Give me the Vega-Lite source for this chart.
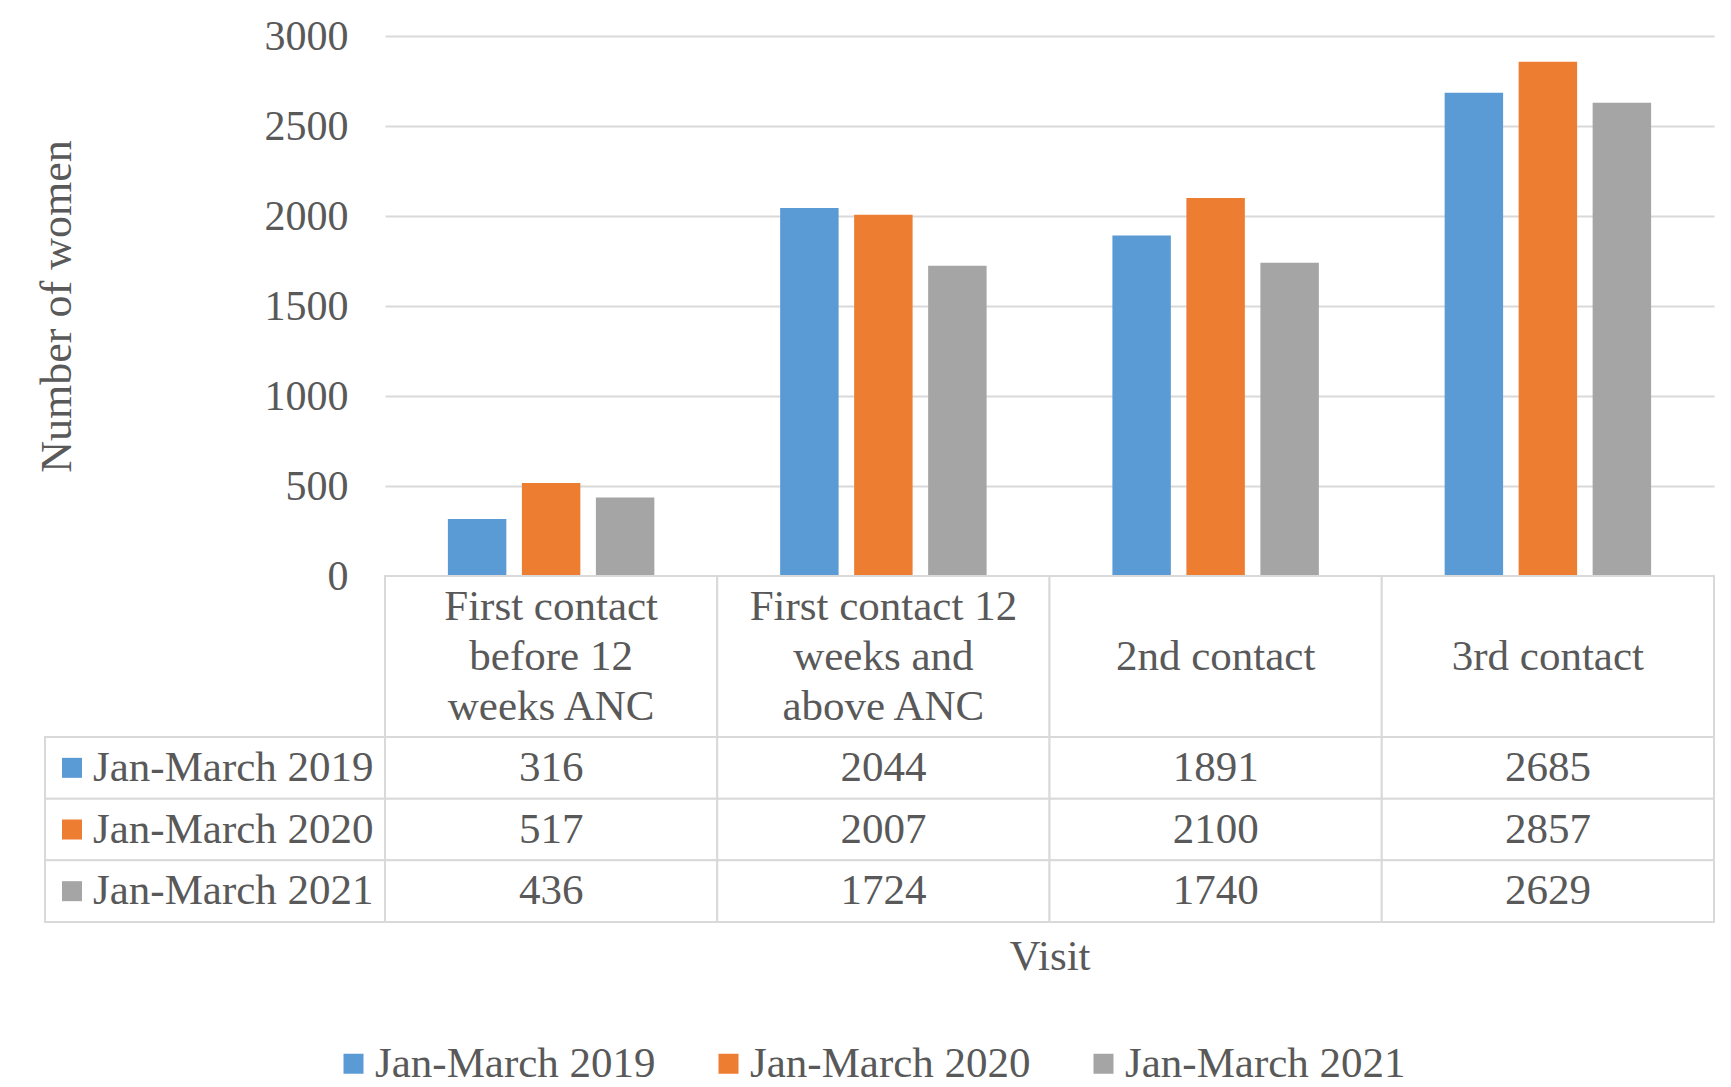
{
  "$schema": "https://vega.github.io/schema/vega-lite/v6.json",
  "background": "white",
  "padding": {"left": 35, "top": 15, "right": 13, "bottom": 5},
  "config": {
    "view": {"stroke": null},
    "font": "Liberation Serif",
    "text": {"font": "Liberation Serif", "color": "#595959"}
  },
  "datasets": {
    "counts": [
      {"visit": "First contact before 12 weeks ANC", "period": "Jan-March 2019", "count": 316},
      {"visit": "First contact 12 weeks and above ANC", "period": "Jan-March 2019", "count": 2044},
      {"visit": "2nd contact", "period": "Jan-March 2019", "count": 1891},
      {"visit": "3rd contact", "period": "Jan-March 2019", "count": 2685},
      {"visit": "First contact before 12 weeks ANC", "period": "Jan-March 2020", "count": 517},
      {"visit": "First contact 12 weeks and above ANC", "period": "Jan-March 2020", "count": 2007},
      {"visit": "2nd contact", "period": "Jan-March 2020", "count": 2100},
      {"visit": "3rd contact", "period": "Jan-March 2020", "count": 2857},
      {"visit": "First contact before 12 weeks ANC", "period": "Jan-March 2021", "count": 436},
      {"visit": "First contact 12 weeks and above ANC", "period": "Jan-March 2021", "count": 1724},
      {"visit": "2nd contact", "period": "Jan-March 2021", "count": 1740},
      {"visit": "3rd contact", "period": "Jan-March 2021", "count": 2629}
    ],
    "headers": [
      {"visit": "First contact before 12 weeks ANC", "header": "First contact|before 12|weeks ANC", "lines": 3},
      {"visit": "First contact 12 weeks and above ANC", "header": "First contact 12|weeks and|above ANC", "lines": 3},
      {"visit": "2nd contact", "header": "2nd contact", "lines": 1},
      {"visit": "3rd contact", "header": "3rd contact", "lines": 1}
    ],
    "periods": [
      {"period": "Jan-March 2019"},
      {"period": "Jan-March 2020"},
      {"period": "Jan-March 2021"}
    ]
  },
  "spacing": 0,
  "bounds": "flush",
  "resolve": {"scale": {"x": "independent", "y": "independent", "color": "shared"}},
  "vconcat": [
    {
      "width": 1329,
      "height": 540,
      "data": {"name": "counts"},
      "mark": {"type": "bar"},
      "encoding": {
        "x": {
          "field": "visit", "type": "nominal",
          "sort": ["First contact before 12 weeks ANC", "First contact 12 weeks and above ANC", "2nd contact", "3rd contact"],
          "scale": {"paddingInner": 0, "paddingOuter": 0},
          "axis": null
        },
        "xOffset": {
          "field": "period", "type": "nominal",
          "sort": ["Jan-March 2019", "Jan-March 2020", "Jan-March 2021"],
          "scale": {"paddingInner": 0.21, "paddingOuter": 0.85}
        },
        "y": {
          "field": "count", "type": "quantitative",
          "scale": {"domain": [0, 3000]},
          "axis": {
            "values": [0, 500, 1000, 1500, 2000, 2500, 3000],
            "format": "d",
            "title": "Number of women",
            "grid": true, "gridColor": "#d9d9d9", "gridWidth": 2,
            "domain": false, "ticks": false,
            "labelFont": "Liberation Serif", "labelFontSize": 42, "labelColor": "#595959", "labelPadding": 37,
            "titleFont": "Liberation Serif", "titleFontSize": 44, "titleFontWeight": "normal", "titleColor": "#595959",
            "titlePadding": 185
          }
        },
        "color": {
          "field": "period", "type": "nominal",
          "scale": {"domain": ["Jan-March 2019", "Jan-March 2020", "Jan-March 2021"], "range": ["#5B9BD5", "#ED7D31", "#A5A5A5"]},
          "legend": {
            "title": null,
            "orient": "none",
            "direction": "horizontal",
            "legendX": -53,
            "legendY": 1006,
            "symbolType": "square",
            "symbolSize": 400,
            "symbolStrokeWidth": 0,
            "labelFont": "Liberation Serif",
            "labelFontSize": 43,
            "labelColor": "#595959",
            "labelOffset": 0,
            "columnPadding": 51,
            "labelLimit": 400
          }
        }
      }
    },
    {
      "width": 1329,
      "height": 161,
      "data": {"name": "headers"},
      "layer": [
        {
          "mark": {"type": "rect", "fill": "white", "stroke": "#d9d9d9", "strokeWidth": 2},
          "encoding": {
            "x": {"field": "visit", "type": "nominal", "sort": ["First contact before 12 weeks ANC", "First contact 12 weeks and above ANC", "2nd contact", "3rd contact"], "scale": {"paddingInner": 0, "paddingOuter": 0}, "axis": null},
            "y": {"datum": "header", "type": "nominal", "scale": {"paddingInner": 0, "paddingOuter": 0}, "axis": null}
          }
        },
        {
          "transform": [{"filter": "datum.lines == 3"}],
          "mark": {"type": "text", "lineBreak": "|", "lineHeight": 50, "dy": -50, "fontSize": 43, "font": "Liberation Serif", "color": "#595959", "baseline": "middle", "align": "center"},
          "encoding": {
            "x": {"field": "visit", "type": "nominal", "sort": ["First contact before 12 weeks ANC", "First contact 12 weeks and above ANC", "2nd contact", "3rd contact"], "axis": null},
            "y": {"datum": "header", "type": "nominal", "axis": null},
            "text": {"field": "header"}
          }
        },
        {
          "transform": [{"filter": "datum.lines == 1"}],
          "mark": {"type": "text", "fontSize": 43, "font": "Liberation Serif", "color": "#595959", "baseline": "middle", "align": "center"},
          "encoding": {
            "x": {"field": "visit", "type": "nominal", "sort": ["First contact before 12 weeks ANC", "First contact 12 weeks and above ANC", "2nd contact", "3rd contact"], "axis": null},
            "y": {"datum": "header", "type": "nominal", "axis": null},
            "text": {"field": "header"}
          }
        }
      ]
    },
    {
      "width": 1329,
      "height": 185,
      "resolve": {"scale": {"x": "independent"}, "axis": {"x": "independent"}},
      "layer": [
        {
          "data": {"name": "counts"},
          "layer": [
            {
              "mark": {"type": "rect", "fill": "white", "stroke": "#d9d9d9", "strokeWidth": 2},
              "encoding": {
                "x": {
                  "field": "visit", "type": "nominal",
                  "sort": ["First contact before 12 weeks ANC", "First contact 12 weeks and above ANC", "2nd contact", "3rd contact"],
                  "scale": {"paddingInner": 0, "paddingOuter": 0},
                  "axis": {"labels": false, "ticks": false, "domain": false, "title": "Visit", "titleFont": "Liberation Serif", "titleFontSize": 43, "titleFontWeight": "normal", "titleColor": "#595959", "titlePadding": 13}
                },
                "y": {"field": "period", "type": "nominal", "sort": ["Jan-March 2019", "Jan-March 2020", "Jan-March 2021"], "scale": {"paddingInner": 0, "paddingOuter": 0}, "axis": null}
              }
            },
            {
              "mark": {"type": "text", "fontSize": 43, "font": "Liberation Serif", "color": "#595959", "baseline": "middle", "align": "center"},
              "encoding": {
                "x": {"field": "visit", "type": "nominal", "sort": ["First contact before 12 weeks ANC", "First contact 12 weeks and above ANC", "2nd contact", "3rd contact"]},
                "y": {"field": "period", "type": "nominal", "sort": ["Jan-March 2019", "Jan-March 2020", "Jan-March 2021"]},
                "text": {"field": "count", "type": "quantitative", "format": "d"}
              }
            }
          ]
        },
        {
          "data": {"name": "periods"},
          "layer": [
            {
              "mark": {"type": "rect", "fill": "white", "stroke": "#d9d9d9", "strokeWidth": 2},
              "encoding": {
                "x": {"datum": "label", "type": "nominal", "scale": {"domain": ["label"], "range": [-340, 0], "paddingInner": 0, "paddingOuter": 0}, "axis": null},
                "y": {"field": "period", "type": "nominal", "sort": ["Jan-March 2019", "Jan-March 2020", "Jan-March 2021"]}
              }
            },
            {
              "mark": {"type": "point", "shape": "square", "filled": true, "size": 400, "opacity": 1, "xOffset": 27},
              "encoding": {
                "x": {"datum": "label", "type": "nominal", "bandPosition": 0},
                "y": {"field": "period", "type": "nominal", "sort": ["Jan-March 2019", "Jan-March 2020", "Jan-March 2021"]},
                "color": {"field": "period", "type": "nominal"}
              }
            },
            {
              "mark": {"type": "text", "fontSize": 43, "font": "Liberation Serif", "color": "#595959", "baseline": "middle", "align": "left", "dx": 48},
              "encoding": {
                "x": {"datum": "label", "type": "nominal", "bandPosition": 0},
                "y": {"field": "period", "type": "nominal", "sort": ["Jan-March 2019", "Jan-March 2020", "Jan-March 2021"]},
                "text": {"field": "period"}
              }
            }
          ]
        }
      ]
    }
  ]
}
